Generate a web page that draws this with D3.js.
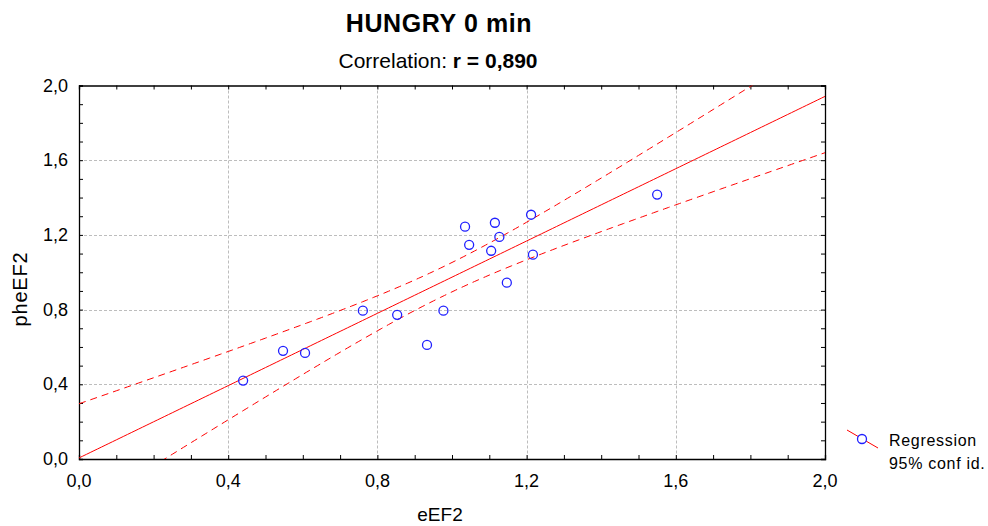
<!DOCTYPE html>
<html>
<head>
<meta charset="utf-8">
<script src="https://cdn.jsdelivr.net/npm/d3@7"></script>
<style>
body { margin: 0; background: #fff; }
text { font-family: "Liberation Sans", Arial, sans-serif; }
</style>
</head>
<body>
<svg width="988" height="526"></svg>
<script>
'use strict';

// data
const eEF2 = [0.440, 0.547, 0.606, 0.761, 0.853, 0.933, 0.977, 1.035, 1.046, 1.105, 1.115, 1.127, 1.147, 1.212, 1.217, 1.550];
const pheEF2 = [0.420, 0.579, 0.568, 0.794, 0.772, 0.611, 0.794, 1.244, 1.147, 1.115, 1.265, 1.189, 0.944, 1.308, 1.094, 1.416];
const xTicks = [0, 0.4, 0.8, 1.2, 1.6, 2.0];
const yTicks = [0, 0.4, 0.8, 1.2, 1.6, 2.0];
const legendLabels = ["Regression", "95% conf id."];
const tCrit = 2.145; // t(0.975, 14)

const svg = d3.select("svg");
const pLeft = 79, pRight = 825, pTop = 85.5, pBottom = 459;

const x = d3.scaleLinear().domain([0, 2]).range([pLeft, pRight]);
const y = d3.scaleLinear().domain([0, 2]).range([pBottom, pTop]);
const fmt = d => d3.format(".1f")(d).replace(".", ",");

// title
svg.append("text")
    .attr("x", 439).attr("y", 32)
    .attr("text-anchor", "middle")
    .style("font-weight", "bold")
    .style("font-size", "25px")
    .style("letter-spacing", "0.6px")
    .text("HUNGRY 0 min");

const sub = svg.append("text")
    .attr("x", 438).attr("y", 68)
    .attr("text-anchor", "middle")
    .style("font-size", "21px");
sub.append("tspan").text("Correlation: ");
sub.append("tspan").style("font-weight", "bold").text("r = 0,890");

// grid
const grid = svg.append("g")
    .attr("stroke", "#bdbdbd")
    .attr("stroke-dasharray", "3,2")
    .attr("stroke-width", 1);
grid.selectAll(".gx").data(xTicks.slice(1, -1)).join("line")
    .attr("x1", d => Math.round(x(d)) + 0.5).attr("x2", d => Math.round(x(d)) + 0.5)
    .attr("y1", pTop).attr("y2", pBottom);
grid.selectAll(".gy").data(yTicks.slice(1, -1)).join("line")
    .attr("y1", d => Math.round(y(d)) + 0.5).attr("y2", d => Math.round(y(d)) + 0.5)
    .attr("x1", pLeft).attr("x2", pRight);

// axes, ticks inside on all four sides
const minor = d3.range(0, 2.001, 0.1);
svg.append("g").attr("transform", `translate(0,${pBottom})`)
    .call(d3.axisBottom(x).tickValues(minor).tickSize(-4).tickFormat(""));
svg.append("g").attr("transform", `translate(0,${pTop})`)
    .call(d3.axisTop(x).tickValues(minor).tickSize(-4).tickFormat(""));
svg.append("g").attr("transform", `translate(${pLeft},0)`)
    .call(d3.axisLeft(y).tickValues(minor).tickSize(-4).tickFormat(""));
svg.append("g").attr("transform", `translate(${pRight},0)`)
    .call(d3.axisRight(y).tickValues(minor).tickSize(-4).tickFormat(""));
svg.selectAll(".domain").attr("stroke", "#000").attr("stroke-width", 1.3);
svg.selectAll(".tick line").attr("stroke", "#000");

// tick labels
svg.append("g").selectAll("text").data(xTicks).join("text")
    .attr("x", d => x(d)).attr("y", pBottom + 28)
    .attr("text-anchor", "middle")
    .style("font-size", "18px")
    .text(fmt);
svg.append("g").selectAll("text").data(yTicks).join("text")
    .attr("x", pLeft - 11).attr("y", d => y(d) + 6)
    .attr("text-anchor", "end")
    .style("font-size", "18px")
    .text(fmt);

// axis titles
svg.append("text")
    .attr("x", 440).attr("y", 521)
    .attr("text-anchor", "middle")
    .style("font-size", "19px")
    .text("eEF2");
svg.append("text")
    .attr("transform", "translate(27,289) rotate(-90)")
    .attr("text-anchor", "middle")
    .style("font-size", "20px")
    .style("letter-spacing", "0.8px")
    .text("pheEF2");

// regression with 95% band
const n = eEF2.length;
const mx = d3.mean(eEF2), my = d3.mean(pheEF2);
const sxx = d3.sum(eEF2, v => (v - mx) * (v - mx));
const sxy = d3.sum(eEF2, (v, i) => (v - mx) * (pheEF2[i] - my));
const b = sxy / sxx, a = my - b * mx;
const se = Math.sqrt(d3.sum(eEF2, (v, i) => Math.pow(pheEF2[i] - a - b * v, 2)) / (n - 2));
const band = v => tCrit * se * Math.sqrt(1 / n + (v - mx) * (v - mx) / sxx);
const xs = d3.range(0, 2.0001, 0.01);

svg.append("clipPath").attr("id", "plot")
    .append("rect").attr("x", pLeft).attr("y", pTop)
    .attr("width", pRight - pLeft).attr("height", pBottom - pTop);

const lines = svg.append("g").attr("clip-path", "url(#plot)")
    .attr("fill", "none").attr("stroke", "#ff0000").attr("stroke-width", 1);
const line = d3.line().x(d => x(d[0])).y(d => y(d[1]));
lines.append("path").attr("d", line(xs.map(v => [v, a + b * v])));
lines.append("path").attr("stroke-dasharray", "7,5")
    .attr("d", line(xs.map(v => [v, a + b * v + band(v)])));
lines.append("path").attr("stroke-dasharray", "7,5")
    .attr("d", line(xs.map(v => [v, a + b * v - band(v)])));

// points
svg.append("g").selectAll("circle").data(eEF2).join("circle")
    .attr("cx", d => x(d))
    .attr("cy", (d, i) => y(pheEF2[i]))
    .attr("r", 4.5)
    .attr("fill", "none")
    .attr("stroke", "#2020ff")
    .attr("stroke-width", 1.3);

// legend
const lg = svg.append("g");
lg.append("line")
    .attr("x1", 847).attr("y1", 430).attr("x2", 878).attr("y2", 448)
    .attr("stroke", "#ff0000");
lg.append("circle")
    .attr("cx", 862).attr("cy", 439).attr("r", 4.5)
    .attr("fill", "#fff").attr("stroke", "#2020ff").attr("stroke-width", 1.3);
lg.selectAll("text").data(legendLabels).join("text")
    .attr("x", 889).attr("y", (d, i) => 446 + i * 23)
    .style("font-size", "16px")
    .style("letter-spacing", "0.7px")
    .text(d => d);
</script>
</body>
</html>
